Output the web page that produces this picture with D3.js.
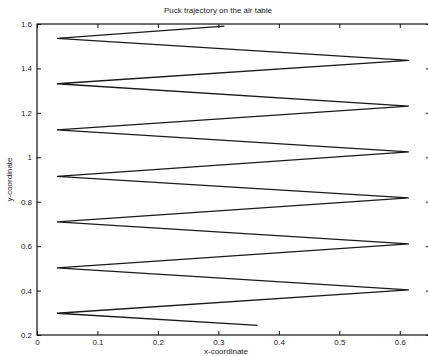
<html>
<head>
<meta charset="UTF-8">
<script src="https://d3js.org/d3.v7.min.js"></script>
<style>
  body { margin: 0; background: #fff; }
  text { font-family: "Liberation Sans", Arial, sans-serif; fill: #222; }
</style>
</head>
<body>
<svg id="svg1" width="428" height="356"></svg>
<script>
// puck positions at wall bounces (start bottom, end top)
const puckX = [0.365, 0.033, 0.615, 0.033, 0.615, 0.033, 0.615, 0.033, 0.615, 0.033, 0.615, 0.033, 0.615, 0.033, 0.31];
const puckY = [0.243, 0.298, 0.403, 0.502, 0.610, 0.709, 0.817, 0.914, 1.024, 1.123, 1.230, 1.331, 1.436, 1.535, 1.590];
const xTicks = [0, 0.1, 0.2, 0.3, 0.4, 0.5, 0.6];
const yTicks = [0.2, 0.4, 0.6, 0.8, 1, 1.2, 1.4, 1.6];

const svg = d3.select("#svg1");
const margin = { top: 24, left: 37, bottom: 21, right: -2 };
const W = 428, H = 356;

const x = d3.scaleLinear([0, 0.65], [margin.left, W - margin.right]);
const y = d3.scaleLinear([0.2, 1.6], [H - margin.bottom, margin.top]);

const fmt = d => d === 0 ? "0" : (d === 1 ? "1" : d3.format(".1f")(d));

// frame
svg.append("rect")
  .attr("x", x(0)).attr("y", y(1.6))
  .attr("width", x(0.65) - x(0)).attr("height", y(0.2) - y(1.6))
  .attr("fill", "none").attr("stroke", "#111").attr("stroke-width", 1.2);

function styleAxis(g) {
  g.select(".domain").remove();
  g.selectAll("line").attr("stroke", "#111");
  g.selectAll("text").attr("font-size", 8).style("font-family", "Liberation Sans, Arial, sans-serif").attr("fill", "#222");
}

svg.append("g").attr("transform", `translate(0,${y(0.2)})`)
  .call(d3.axisBottom(x).tickValues(xTicks).tickFormat(fmt).tickSize(-4).tickPadding(4))
  .call(styleAxis);
svg.append("g").attr("transform", `translate(0,${y(1.6)})`)
  .call(d3.axisTop(x).tickValues(xTicks).tickFormat("").tickSize(-4))
  .call(styleAxis);
svg.append("g").attr("transform", `translate(${x(0)},0)`)
  .call(d3.axisLeft(y).tickValues(yTicks).tickFormat(fmt).tickSize(-4).tickPadding(5))
  .call(styleAxis);
svg.append("g").attr("transform", `translate(${x(0.65)},0)`)
  .call(d3.axisRight(y).tickValues(yTicks).tickFormat("").tickSize(-4))
  .call(styleAxis);

// trajectory
const pts = puckX.map((d, i) => [d, puckY[i]]);
svg.append("path")
  .attr("d", d3.line().x(d => x(d[0])).y(d => y(d[1]))(pts))
  .attr("fill", "none").attr("stroke", "#1a1a1a").attr("stroke-width", 1.3)
  .attr("stroke-linejoin", "miter");

// labels
svg.append("text").attr("x", 218).attr("y", 13).attr("text-anchor", "middle")
  .attr("font-size", 8).text("Puck trajectory on the air table");
svg.append("text").attr("x", 226).attr("y", 354).attr("text-anchor", "middle")
  .attr("font-size", 8).text("x-coordinate");
svg.append("text").attr("transform", `translate(12,${y(0.9)}) rotate(-90)`)
  .attr("text-anchor", "middle").attr("font-size", 8).text("y-coordinate");
</script>
</body>
</html>
